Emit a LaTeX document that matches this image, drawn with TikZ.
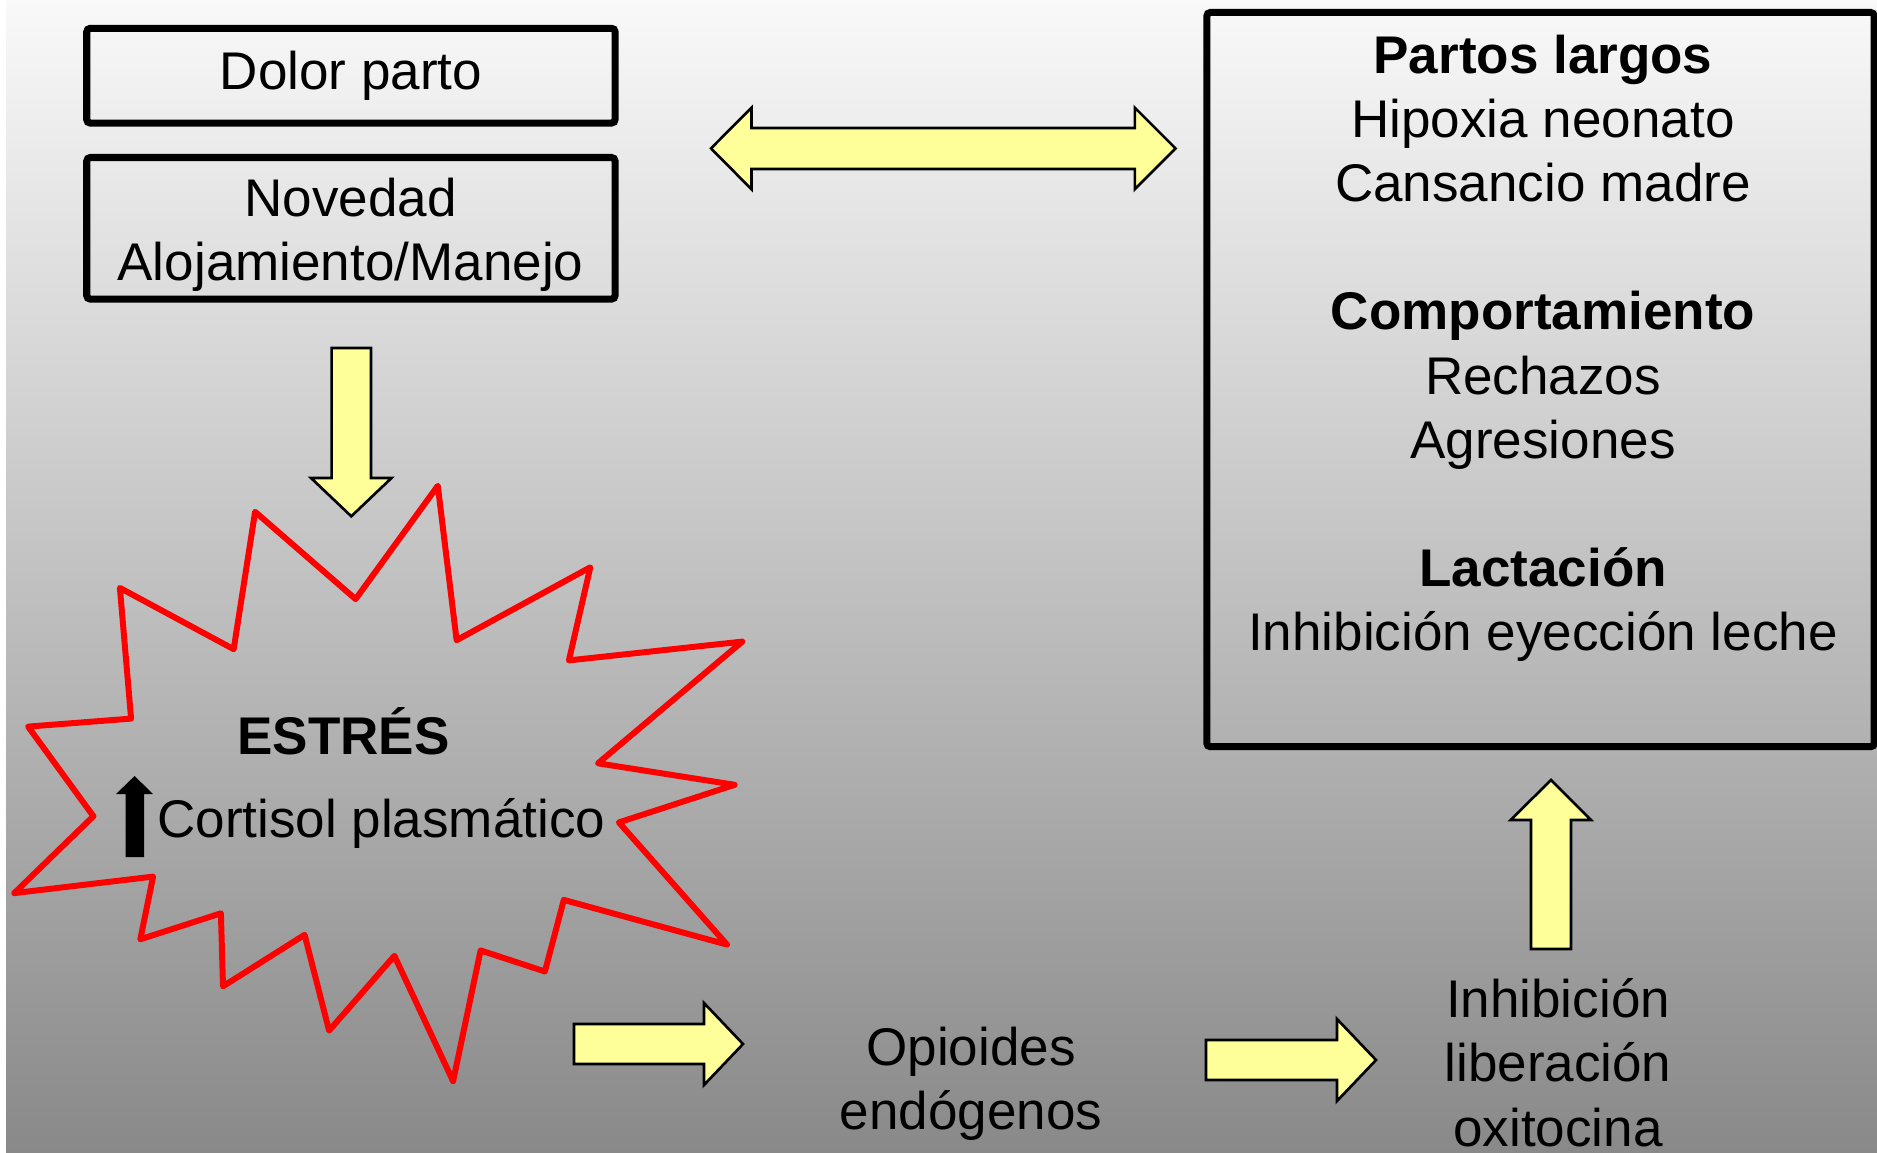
\documentclass[tikz,border=0pt]{standalone}
\usepackage{fontspec}
\setmainfont{Liberation Sans}
\definecolor{bgtop}{RGB}{249,249,249}
\definecolor{bgbot}{RGB}{137,137,137}
\definecolor{arrowyellow}{RGB}{255,255,153}
\definecolor{burstred}{RGB}{255,0,0}
\tikzset{
  txt/.style={font=\fontsize{15.08}{18.21}\selectfont, inner sep=0pt, text=black},
  boxstyle/.style={draw=black, line width=2pt, rounded corners=1pt, inner sep=0pt},
  blockarrow/.style={fill=arrowyellow, draw=black, line width=0.75pt, line join=miter},
  burst/.style={draw=burstred, line width=1.7pt, line join=round},
}
\begin{document}
\begin{tikzpicture}[x=0.01cm, y=-0.01cm]
\useasboundingbox (0,0) rectangle (1877,1152);
% background
\fill[white] (0,0) rectangle (1877,1152);
\shade[top color=bgtop, bottom color=bgbot] (6,0) rectangle (1877,1152);

% left boxes
\node[boxstyle, txt, minimum width=5.28cm, minimum height=0.947cm] (dolor) at (350.9,75.7) {Dolor parto};
\node[boxstyle, minimum width=5.28cm, minimum height=1.415cm] (novedad) at (350.9,228.3) {};
\node[txt, align=center] (novtxt) at (350.5,235) {Novedad\\Alojamiento/Manejo};

% right box
\node[boxstyle, minimum width=6.67cm, minimum height=7.338cm] (efectos) at (1540.5,379.6) {};
\node[txt, align=center] (eftxt) at (1543,348.3) {\textbf{Partos largos}\\Hipoxia neonato\\Cansancio madre\\[18.21pt]\textbf{Comportamiento}\\Rechazos\\Agresiones\\[18.21pt]\textbf{Lactación}\\Inhibición eyección leche};

% starburst
\draw[burst] (255.1,511.8) -- (355.6,599.1) -- (437.8,485.8) -- (456.6,640.2)
  -- (590.3,567.3) -- (568.9,660.4) -- (742.3,641.6) -- (598.0,763.3)
  -- (734.7,784.8) -- (618.9,822.4) -- (727.0,944.6) -- (563.8,899.9)
  -- (544.9,971.5) -- (480.6,950.4) -- (453.1,1081.2) -- (394.4,955.8)
  -- (329.1,1030.6) -- (304.6,934.8) -- (223.0,986.3) -- (220.9,913.3)
  -- (140.3,939.3) -- (153.1,876.6) -- (14.3,893.1) -- (93.4,816.2)
  -- (28.1,726.6) -- (131.1,718.6) -- (119.9,587.9) -- (233.7,649.2) -- cycle;
\node[txt, anchor=base, font=\fontsize{15.08}{18.21}\selectfont\bfseries] (estres) at (343.4,754.4) {ESTRÉS};
\node[txt, anchor=base] (cortisol) at (381.3,837) {Cortisol plasmático};
% black up arrow before Cortisol
\fill[black] (125.5,857) -- (144,857) -- (144,794) -- (153,794) -- (134.6,776)
  -- (116,794) -- (125.5,794) -- cycle;

% bottom texts
\node[txt, align=center] (opioides) at (971,1084.2) {Opioides\\endógenos};
\node[txt, align=center] (inhib) at (1558,1062.7) {Inhibición\\liberación\\oxitocina};

% block arrows
% down arrow (boxes -> stress)
\draw[blockarrow] (331.6,348) -- (371,348) -- (371,478) -- (391.5,478) -- (351.3,516.3)
  -- (311,478) -- (331.6,478) -- cycle;
% double arrow (boxes <-> effects)
\draw[blockarrow] (711,148.4) -- (751.5,107.7) -- (751.5,128) -- (1134.8,128)
  -- (1134.8,107.7) -- (1175.5,148.4) -- (1134.8,189.3) -- (1134.8,169)
  -- (751.5,169) -- (751.5,189.3) -- cycle;
% stress -> opioides
\draw[blockarrow] (574,1024) -- (704,1024) -- (704,1003) -- (743,1044) -- (704,1085)
  -- (704,1064) -- (574,1064) -- cycle;
% opioides -> inhibicion
\draw[blockarrow] (1206,1040) -- (1337,1040) -- (1337,1019) -- (1376,1060) -- (1337,1101)
  -- (1337,1080) -- (1206,1080) -- cycle;
% inhibicion -> effects
\draw[blockarrow] (1531,949) -- (1571,949) -- (1571,820) -- (1591,820) -- (1551,780)
  -- (1510.6,820) -- (1531,820) -- cycle;
\end{tikzpicture}
\end{document}
